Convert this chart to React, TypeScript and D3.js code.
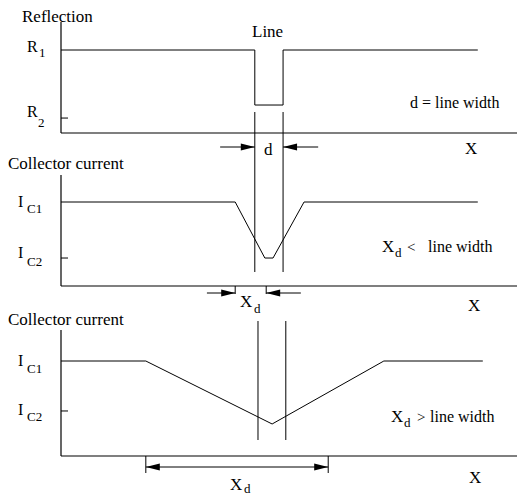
import React from "react";
import * as d3 from "d3";

// ---- data (abstract units: x = position 0..100, y = normalised level 0..1) ----
const reflectionX = [0, 42.5, 42.5, 48.7, 48.7, 91.4];
const reflectionY = [1, 1, 0.337, 0.337, 1, 1];
const currentNarrowX = [0, 38.2, 44.7, 46.5, 53.3, 91.4];
const currentNarrowY = [1, 1, 0.333, 0.333, 1, 1];
const currentWideX = [0, 18.6, 46.3, 70.8, 92.5];
const currentWideY = [1, 1, 0.337, 1, 1];
const lineEdgesTop = [42.5, 48.7];
const lineEdgesBottom = [43.2, 49.3];
const yLevelsPanel1 = [1, 0.18];
const yLevelsPanel2 = [1, 0.333];
const yLevelsPanel3 = [1, 0.474];
const yTickMains = [["R", "1"], ["R", "2"]];
const yTickCurrents = [["I", "C1"], ["I", "C2"]];
const arrowsPanel1 = [[34.9, 42.5], [56.4, 48.7]];
const arrowsPanel2 = [[32.0, 38.2], [52.6, 45.0]];
const arrowPanel3 = [18.6, 58.6];
const panelTitles = ["Reflection", "Collector current", "Collector current"];

const W = 518;
const H = 495;
const FONT = "Liberation Serif, Times New Roman, Times, DejaVu Serif, serif";

const x = d3.scaleLinear().domain([0, 100]).range([61, 517]);

const panels = [
  { base: 133, level: 50, top: 22 },
  { base: 286, level: 202, top: 175 },
  { base: 456, level: 361, top: 330 },
];
const yScales = panels.map((p) => d3.scaleLinear().domain([0, 1]).range([p.base, p.level]));

const lineGen = (ys: d3.ScaleLinear<number, number>) =>
  d3
    .line<[number, number]>()
    .x((d) => x(d[0]))
    .y((d) => ys(d[1]));

function zip(a: number[], b: number[]): [number, number][] {
  return a.map((v, i) => [v, b[i]]);
}

function Arrowhead({ tip, y, dir }: { tip: number; y: number; dir: number }) {
  const len = 14;
  const hw = 3.5;
  const p = `M${tip},${y}L${tip - dir * len},${y - hw}L${tip - dir * len},${y + hw}Z`;
  return <path d={p} fill="#000" />;
}

function Axes({ i }: { i: number }) {
  const p = panels[i];
  return (
    <g stroke="#000" strokeWidth={1.2} fill="none">
      <line x1={61} y1={p.top} x2={61} y2={p.base} />
      <line x1={61} y1={p.base} x2={517} y2={p.base} />
    </g>
  );
}

function YLabel({
  main,
  sub,
  y,
  mainSize,
  subDx,
  subDy,
}: {
  main: string;
  sub: string;
  y: number;
  mainSize: number;
  subDx: number;
  subDy: number;
}) {
  const x0 = main === "R" ? 27 : 18;
  return (
    <g fill="#000" style={{ fontFamily: FONT }}>
      <text x={x0} y={y} fontSize={mainSize}>
        {main}
      </text>
      <text x={x0 + subDx} y={y + subDy} fontSize={13}>
        {sub}
      </text>
    </g>
  );
}

export default function App() {
  const y1 = yScales[0];
  const y2 = yScales[1];
  const y3 = yScales[2];
  return (
    <svg
      width={W}
      height={H}
      style={{ position: "absolute", left: 0, top: 0, background: "#fff", fontFamily: FONT }}
    >
      <rect width={W} height={H} fill="#fff" />
      {/* titles */}
      <g fontSize={17} fill="#000">
        <text x={22} y={22}>{panelTitles[0]}</text>
        <text x={8} y={169}>{panelTitles[1]}</text>
        <text x={8} y={325}>{panelTitles[2]}</text>
      </g>

      {/* Panel 1 */}
      <Axes i={0} />
      <line x1={61} x2={68} y1={y1(yLevelsPanel1[1])} y2={y1(yLevelsPanel1[1])} stroke="#000" />
      <path d={lineGen(y1)(zip(reflectionX, reflectionY)) || ""} fill="none" stroke="#000" strokeWidth={1} />
      <YLabel main={yTickMains[0][0]} sub={yTickMains[0][1]} y={y1(yLevelsPanel1[0]) + 2} mainSize={16} subDx={12} subDy={5} />
      <YLabel main={yTickMains[1][0]} sub={yTickMains[1][1]} y={y1(yLevelsPanel1[1]) - 1} mainSize={16} subDx={11} subDy={10} />
      <g fontSize={17} fill="#000">
        <text x={252} y={37}>Line</text>
        <text x={410} y={108} fontSize={16}>{"d = line width"}</text>
        <text x={264} y={155}>d</text>
        <text x={465} y={154}>X</text>
      </g>
      {/* line edges through panels 1-2 */}
      {lineEdgesTop.map((e, k) => (
        <line key={k} x1={x(e)} x2={x(e)} y1={112} y2={272} stroke="#000" strokeWidth={1} />
      ))}
      {arrowsPanel1.map(([t0, t1], k) => (
        <g key={k}>
          <line x1={x(t0)} x2={x(t1)} y1={147} y2={147} stroke="#000" />
          <Arrowhead tip={x(t1)} y={147} dir={t1 > t0 ? 1 : -1} />
        </g>
      ))}

      {/* Panel 2 */}
      <Axes i={1} />
      <line x1={61} x2={68} y1={y2(yLevelsPanel2[1])} y2={y2(yLevelsPanel2[1])} stroke="#000" />
      <path d={lineGen(y2)(zip(currentNarrowX, currentNarrowY)) || ""} fill="none" stroke="#000" strokeWidth={1} />
      <YLabel main={yTickCurrents[0][0]} sub={yTickCurrents[0][1]} y={y2(yLevelsPanel2[0]) + 5} mainSize={16} subDx={9} subDy={6} />
      <YLabel main={yTickCurrents[1][0]} sub={yTickCurrents[1][1]} y={y2(yLevelsPanel2[1])} mainSize={16} subDx={9} subDy={8} />
      {arrowsPanel2.map(([t0, t1], k) => (
        <g key={k}>
          <line x1={x(t0)} x2={x(t1)} y1={293} y2={293} stroke="#000" />
          <line x1={x(t1)} x2={x(t1)} y1={286} y2={294} stroke="#000" />
          <Arrowhead tip={x(t1)} y={293} dir={t1 > t0 ? 1 : -1} />
        </g>
      ))}
      <g fill="#000">
        <text x={240} y={307} fontSize={17}>X</text>
        <text x={254} y={313} fontSize={13}>d</text>
        <text x={468} y={311} fontSize={17}>X</text>
        <text x={382} y={252} fontSize={17}>X</text>
        <text x={395} y={257} fontSize={13}>d</text>
        <text x={407} y={252} fontSize={15}>&lt;</text>
        <text x={428} y={252} fontSize={16}>line width</text>
      </g>

      {/* Panel 3 */}
      <Axes i={2} />
      <line x1={61} x2={68} y1={y3(yLevelsPanel3[1])} y2={y3(yLevelsPanel3[1])} stroke="#000" />
      <path d={lineGen(y3)(zip(currentWideX, currentWideY)) || ""} fill="none" stroke="#000" strokeWidth={1} />
      <YLabel main={yTickCurrents[0][0]} sub={yTickCurrents[0][1]} y={y3(yLevelsPanel3[0]) + 5} mainSize={16} subDx={9} subDy={7} />
      <YLabel main={yTickCurrents[1][0]} sub={yTickCurrents[1][1]} y={y3(yLevelsPanel3[1]) + 4} mainSize={16} subDx={9} subDy={6} />
      {lineEdgesBottom.map((e, k) => (
        <line key={k} x1={x(e)} x2={x(e)} y1={321} y2={440} stroke="#000" strokeWidth={1} />
      ))}
      <g>
        <line x1={x(arrowPanel3[0])} x2={x(arrowPanel3[1])} y1={467} y2={467} stroke="#000" />
        <line x1={x(arrowPanel3[0])} x2={x(arrowPanel3[0])} y1={456} y2={473} stroke="#000" />
        <line x1={x(arrowPanel3[1])} x2={x(arrowPanel3[1])} y1={456} y2={473} stroke="#000" />
        <Arrowhead tip={x(arrowPanel3[0])} y={467} dir={-1} />
        <Arrowhead tip={x(arrowPanel3[1])} y={467} dir={1} />
      </g>
      <g fill="#000">
        <text x={230} y={490} fontSize={17}>X</text>
        <text x={244} y={493} fontSize={13}>d</text>
        <text x={469} y={483} fontSize={17}>X</text>
        <text x={391} y={422} fontSize={17}>X</text>
        <text x={404} y={427} fontSize={13}>d</text>
        <text x={417} y={422} fontSize={15}>&gt;</text>
        <text x={430} y={422} fontSize={16}>line width</text>
      </g>
    </svg>
  );
}
